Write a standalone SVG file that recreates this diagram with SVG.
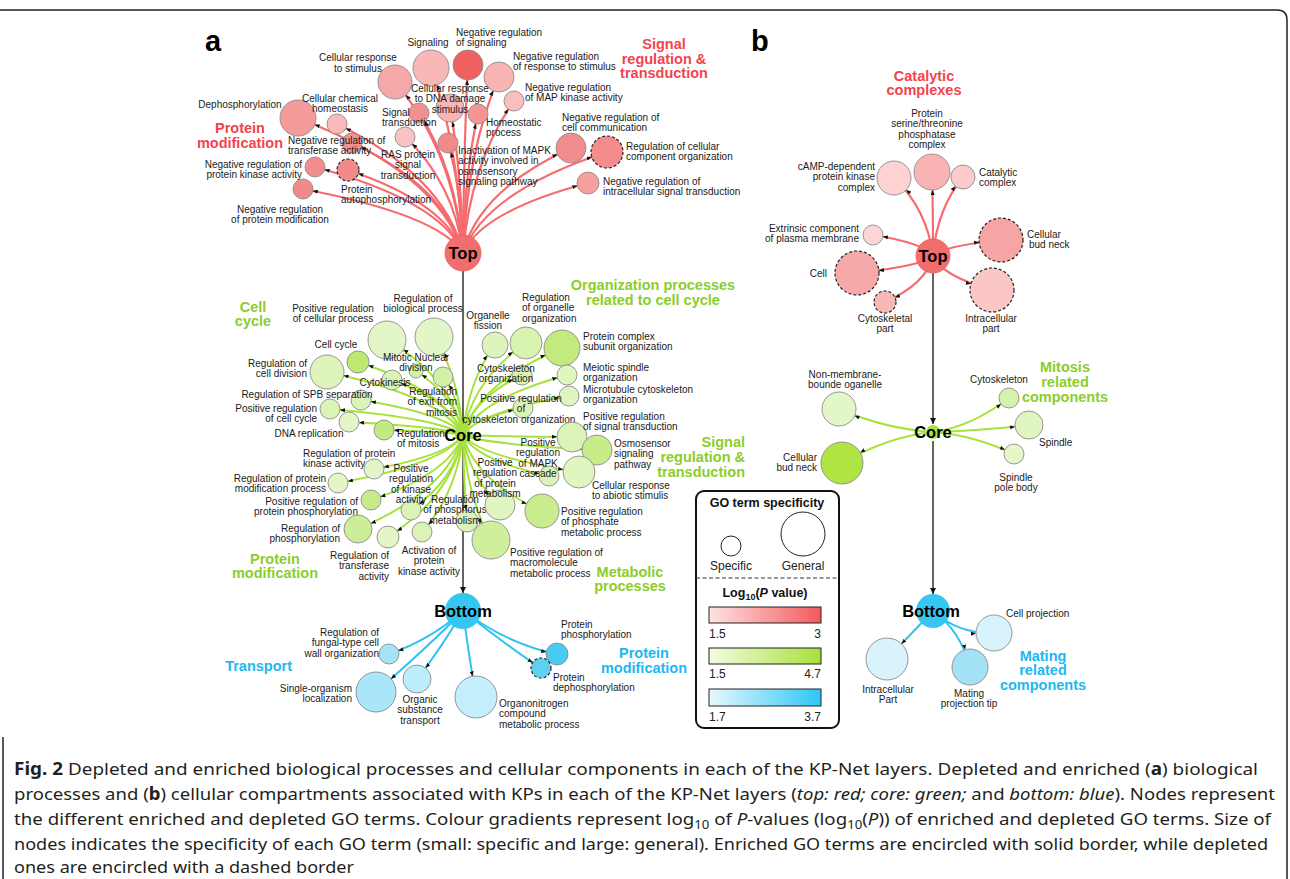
<svg xmlns="http://www.w3.org/2000/svg" width="1290" height="879" viewBox="0 0 1290 879">
<defs>
<style>
.lb{font-family:"Liberation Sans",Arial,sans-serif;font-size:10px;fill:#1a1a1a}
.gr{font-family:"Liberation Sans",Arial,sans-serif;font-size:14.5px;font-weight:bold}
.rd{fill:#f3434e}.gn{fill:#8bcd2b}.cy{fill:#1db8ee}
.hub{font-family:"Liberation Sans",Arial,sans-serif;font-weight:bold;font-size:16.5px;fill:#000;text-anchor:middle}
.pl{font-family:"Liberation Sans",Arial,sans-serif;font-weight:bold;font-size:29px;fill:#000}
.n{stroke:#8c8c8c;stroke-width:0.9}
.d{stroke:#222;stroke-width:1.2;stroke-dasharray:3 2}
.er{fill:none;stroke:#f56b6e;stroke-width:2.2}
.eg{fill:none;stroke:#a7e23c;stroke-width:2}
.eb{fill:none;stroke:#2ec3f0;stroke-width:2}
.vk{fill:none;stroke:#111;stroke-width:1.3}
.cap{font-family:"Noto Sans","Open Sans",sans-serif;font-size:17px;fill:#231f20}
.lg{font-family:"Liberation Sans",Arial,sans-serif;font-size:12px;fill:#222}
.lgb{font-family:"Liberation Sans",Arial,sans-serif;font-size:12.5px;font-weight:bold;fill:#111}
</style>
<marker id="m7" markerUnits="userSpaceOnUse" markerWidth="5" markerHeight="4" refX="12" refY="2" orient="auto"><path d="M0,0 L5,2 L0,4 Z" fill="#111"/></marker>
<marker id="m10" markerUnits="userSpaceOnUse" markerWidth="5" markerHeight="4" refX="15" refY="2" orient="auto"><path d="M0,0 L5,2 L0,4 Z" fill="#111"/></marker>
<marker id="m11" markerUnits="userSpaceOnUse" markerWidth="5" markerHeight="4" refX="16" refY="2" orient="auto"><path d="M0,0 L5,2 L0,4 Z" fill="#111"/></marker>
<marker id="m12" markerUnits="userSpaceOnUse" markerWidth="5" markerHeight="4" refX="17" refY="2" orient="auto"><path d="M0,0 L5,2 L0,4 Z" fill="#111"/></marker>
<marker id="m13" markerUnits="userSpaceOnUse" markerWidth="5" markerHeight="4" refX="18" refY="2" orient="auto"><path d="M0,0 L5,2 L0,4 Z" fill="#111"/></marker>
<marker id="m14" markerUnits="userSpaceOnUse" markerWidth="5" markerHeight="4" refX="19" refY="2" orient="auto"><path d="M0,0 L5,2 L0,4 Z" fill="#111"/></marker>
<marker id="m15" markerUnits="userSpaceOnUse" markerWidth="5" markerHeight="4" refX="20" refY="2" orient="auto"><path d="M0,0 L5,2 L0,4 Z" fill="#111"/></marker>
<marker id="m16" markerUnits="userSpaceOnUse" markerWidth="5" markerHeight="4" refX="21" refY="2" orient="auto"><path d="M0,0 L5,2 L0,4 Z" fill="#111"/></marker>
<marker id="m17" markerUnits="userSpaceOnUse" markerWidth="5" markerHeight="4" refX="22" refY="2" orient="auto"><path d="M0,0 L5,2 L0,4 Z" fill="#111"/></marker>
<marker id="m18" markerUnits="userSpaceOnUse" markerWidth="5" markerHeight="4" refX="23" refY="2" orient="auto"><path d="M0,0 L5,2 L0,4 Z" fill="#111"/></marker>
<marker id="m19" markerUnits="userSpaceOnUse" markerWidth="5" markerHeight="4" refX="24" refY="2" orient="auto"><path d="M0,0 L5,2 L0,4 Z" fill="#111"/></marker>
<marker id="m20" markerUnits="userSpaceOnUse" markerWidth="5" markerHeight="4" refX="25" refY="2" orient="auto"><path d="M0,0 L5,2 L0,4 Z" fill="#111"/></marker>
<marker id="m21" markerUnits="userSpaceOnUse" markerWidth="5" markerHeight="4" refX="26" refY="2" orient="auto"><path d="M0,0 L5,2 L0,4 Z" fill="#111"/></marker>
<marker id="m22" markerUnits="userSpaceOnUse" markerWidth="5" markerHeight="4" refX="27" refY="2" orient="auto"><path d="M0,0 L5,2 L0,4 Z" fill="#111"/></marker>
<marker id="mv" markerUnits="userSpaceOnUse" markerWidth="6" markerHeight="6" refX="6" refY="3" orient="auto"><path d="M0,0 L6,3 L0,6 Z" fill="#111"/></marker>
<linearGradient id="gR" x1="0" x2="1" y1="0" y2="0"><stop offset="0" stop-color="#ffe2e2"/><stop offset="1" stop-color="#f25a5c"/></linearGradient>
<linearGradient id="gG" x1="0" x2="1" y1="0" y2="0"><stop offset="0" stop-color="#f3fbe2"/><stop offset="1" stop-color="#a8e03c"/></linearGradient>
<linearGradient id="gB" x1="0" x2="1" y1="0" y2="0"><stop offset="0" stop-color="#e6f8fe"/><stop offset="1" stop-color="#2ec6f5"/></linearGradient>
</defs>
<rect width="1290" height="879" fill="#fff"/>
<path id="frame" d="M0,10 H1277 Q1287,10 1287,20 V879 M3,737 V879" fill="none" stroke="#222" stroke-width="1.5"/>
<text class="pl" x="205" y="51">a</text>
<text class="pl" x="751" y="51">b</text>

<g id="connectors">
<path class="vk" d="M463,271 V424" marker-end="url(#mv)"/>
<path class="vk" d="M463,446 V593" marker-end="url(#mv)"/>
<path class="vk" d="M933,273 V424" marker-end="url(#mv)"/>
<path class="vk" d="M933,441 V594" marker-end="url(#mv)"/>
<path class="er" d="M463,253 Q453,150 395,82" marker-end="url(#m17)"/>
<path class="er" d="M463,253 Q458,142 431,68" marker-end="url(#m18)"/>
<path class="er" d="M463,253 Q464,140 468,65" marker-end="url(#m15)"/>
<path class="er" d="M463,253 Q468,147 499,77" marker-end="url(#m15)"/>
<path class="er" d="M463,253 Q471,162 514,101" marker-end="url(#m10)"/>
<path class="er" d="M463,253 Q461,166 450,108" marker-end="url(#m14)"/>
<path class="er" d="M463,253 Q465,170 478,114" marker-end="url(#m10)"/>
<path class="er" d="M463,253 Q456,169 419,113" marker-end="url(#m10)"/>
<path class="er" d="M463,253 Q461,187 448,143" marker-end="url(#m10)"/>
<path class="er" d="M463,253 Q454,183 405,137" marker-end="url(#m10)"/>
<path class="er" d="M463,253 Q438,172 298,118" marker-end="url(#m18)"/>
<path class="er" d="M463,253 Q444,176 337,124" marker-end="url(#m10)"/>
<path class="er" d="M463,253 Q446,187 352,143" marker-end="url(#m10)"/>
<path class="er" d="M463,253 Q441,201 315,167" marker-end="url(#m10)"/>
<path class="er" d="M463,253 Q446,203 348,170" marker-end="url(#m11)"/>
<path class="er" d="M463,253 Q439,215 303,189" marker-end="url(#m10)"/>
<path class="er" d="M463,253 Q479,190 571,148" marker-end="url(#m15)"/>
<path class="er" d="M463,253 Q485,192 607,152" marker-end="url(#m16)"/>
<path class="er" d="M463,253 Q482,211 588,183" marker-end="url(#m11)"/>

<path class="eg" d="M463,435 Q452,378 387,340" marker-end="url(#m19)"/>
<path class="eg" d="M463,435 Q459,376 434,337" marker-end="url(#m19)"/>
<path class="eg" d="M463,435 Q447,391 358,362" marker-end="url(#m11)"/>
<path class="eg" d="M463,435 Q443,397 327,372" marker-end="url(#m17)"/>
<path class="eg" d="M463,435 Q456,397 416,371" marker-end="url(#m7)"/>
<path class="eg" d="M463,435 Q460,400 443,377" marker-end="url(#m10)"/>
<path class="eg" d="M463,435 Q452,402 392,380" marker-end="url(#m10)"/>
<path class="eg" d="M463,435 Q448,414 361,400" marker-end="url(#m10)"/>
<path class="eg" d="M463,435 Q443,419 330,409" marker-end="url(#m10)"/>
<path class="eg" d="M463,435 Q446,427 349,422" marker-end="url(#m10)"/>
<path class="eg" d="M463,435 Q451,432 384,430" marker-end="url(#m10)"/>
<path class="eg" d="M463,435 Q450,455 374,469" marker-end="url(#m10)"/>
<path class="eg" d="M463,435 Q444,464 338,483" marker-end="url(#m10)"/>
<path class="eg" d="M463,435 Q455,480 411,510" marker-end="url(#m10)"/>
<path class="eg" d="M463,435 Q449,474 371,500" marker-end="url(#m10)"/>
<path class="eg" d="M463,435 Q447,491 358,529" marker-end="url(#m14)"/>
<path class="eg" d="M463,435 Q452,496 388,537" marker-end="url(#m11)"/>
<path class="eg" d="M463,435 Q457,493 422,532" marker-end="url(#m10)"/>
<path class="eg" d="M463,435 Q464,487 467,521" marker-end="url(#m11)"/>
<path class="eg" d="M463,435 Q469,477 500,505" marker-end="url(#m15)"/>
<path class="eg" d="M463,435 Q467,498 491,540" marker-end="url(#m19)"/>
<path class="eg" d="M463,435 Q475,481 542,511" marker-end="url(#m17)"/>
<path class="eg" d="M463,435 Q468,381 495,345" marker-end="url(#m13)"/>
<path class="eg" d="M463,435 Q472,380 526,343" marker-end="url(#m16)"/>
<path class="eg" d="M463,435 Q478,383 562,348" marker-end="url(#m18)"/>
<path class="eg" d="M463,435 Q479,399 567,375" marker-end="url(#m10)"/>
<path class="eg" d="M463,435 Q479,412 569,396" marker-end="url(#m10)"/>
<path class="eg" d="M463,435 Q472,399 522,375" marker-end="url(#m10)"/>
<path class="eg" d="M463,435 Q472,419 523,408" marker-end="url(#m10)"/>
<path class="eg" d="M463,435 Q479,436 572,437" marker-end="url(#m15)"/>
<path class="eg" d="M463,435 Q483,444 597,450" marker-end="url(#m15)"/>
<path class="eg" d="M463,435 Q480,457 579,472" marker-end="url(#m16)"/>
<path class="eg" d="M463,435 Q476,460 549,476" marker-end="url(#m10)"/>

<path class="eb" d="M463,611 Q430,640 389,654" marker-end="url(#m10)"/>
<path class="eb" d="M463,611 Q430,645 376,692" marker-end="url(#m20)"/>
<path class="eb" d="M463,611 Q440,650 417,679" marker-end="url(#m14)"/>
<path class="eb" d="M463,611 Q468,650 476,697" marker-end="url(#m21)"/>
<path class="eb" d="M463,611 Q510,645 557,654" marker-end="url(#m11)"/>
<path class="eb" d="M463,611 Q510,648 541,668" marker-end="url(#m10)"/>

<path class="er" d="M933,256 Q933,206 932,172" marker-end="url(#m18)"/>
<path class="er" d="M933,256 Q927,209 894,178" marker-end="url(#m17)"/>
<path class="er" d="M933,256 Q937,209 963,177" marker-end="url(#m12)"/>
<path class="er" d="M933,256 Q924,243 873,235" marker-end="url(#m10)"/>
<path class="er" d="M933,256 Q943,246 1001,240" marker-end="url(#m22)"/>
<path class="er" d="M933,256 Q922,266 857,273" marker-end="url(#m22)"/>
<path class="er" d="M933,256 Q926,284 885,302" marker-end="url(#m11)"/>
<path class="er" d="M933,256 Q942,276 992,290" marker-end="url(#m22)"/>

<path class="eg" d="M933,432 Q886,429 839,409" marker-end="url(#m17)"/>
<path class="eg" d="M933,432 Q887,437 842,463" marker-end="url(#m21)"/>
<path class="eg" d="M933,432 Q971,427 1009,398" marker-end="url(#m10)"/>
<path class="eg" d="M933,432 Q981,431 1029,425" marker-end="url(#m14)"/>
<path class="eg" d="M933,432 Q973,435 1014,454" marker-end="url(#m10)"/>

<path class="eb" d="M933,611 Q958,634 994,633" marker-end="url(#m18)"/>
<path class="eb" d="M933,611 Q910,635 887,659" marker-end="url(#m21)"/>
<path class="eb" d="M933,611 Q960,630 970,667" marker-end="url(#m18)"/>
</g>

<g id="group-labels">
<text class="gr rd" text-anchor="middle"><tspan x="240" y="133">Protein</tspan><tspan x="240" y="148">modification</tspan></text>
<text class="gr rd" text-anchor="middle"><tspan x="664" y="49">Signal</tspan><tspan x="664" y="64">regulation &amp;</tspan><tspan x="664" y="78">transduction</tspan></text>
<text class="gr gn" text-anchor="middle"><tspan x="253" y="312">Cell</tspan><tspan x="253" y="326">cycle</tspan></text>
<text class="gr gn" text-anchor="middle"><tspan x="653" y="290">Organization processes</tspan><tspan x="653" y="305">related to cell cycle</tspan></text>
<text class="gr gn" text-anchor="end"><tspan x="745" y="447">Signal</tspan><tspan x="745" y="462">regulation &amp;</tspan><tspan x="745" y="477">transduction</tspan></text>
<text class="gr gn" text-anchor="middle"><tspan x="275" y="564">Protein</tspan><tspan x="275" y="578">modification</tspan></text>
<text class="gr gn" text-anchor="middle"><tspan x="630" y="577">Metabolic</tspan><tspan x="630" y="591">processes</tspan></text>
<text class="gr cy" text-anchor="end" x="292" y="671">Transport</text>
<text class="gr cy" text-anchor="middle"><tspan x="644" y="658">Protein</tspan><tspan x="644" y="673">modification</tspan></text>
<text class="gr rd" text-anchor="middle"><tspan x="924" y="81">Catalytic</tspan><tspan x="924" y="95">complexes</tspan></text>
<text class="gr gn" text-anchor="middle"><tspan x="1065" y="372">Mitosis</tspan><tspan x="1065" y="387">related</tspan><tspan x="1065" y="402">components</tspan></text>
<text class="gr cy" text-anchor="middle"><tspan x="1043" y="661">Mating</tspan><tspan x="1043" y="675">related</tspan><tspan x="1043" y="690">components</tspan></text>
</g>

<g id="n-cellular-response-to-stimulus"><circle class="n" cx="395" cy="82" r="17" fill="#f6a7a7"/><text class="lb" text-anchor="middle"><tspan x="358" y="61">Cellular response</tspan><tspan x="358" dy="10.5">to stimulus</tspan></text></g>
<g id="n-signaling"><circle class="n" cx="431" cy="68" r="18" fill="#f9b7b7"/><text class="lb" text-anchor="middle" x="428" y="45.5">Signaling</text></g>
<g id="n-neg-reg-signaling"><circle class="n" cx="468" cy="65" r="15" fill="#ee6161"/><text class="lb"><tspan x="456" y="35.5">Negative regulation</tspan><tspan x="456" dy="10.5">of signaling</tspan></text></g>
<g id="n-neg-reg-response"><circle class="n" cx="499" cy="77" r="15" fill="#f8b3b3"/><text class="lb"><tspan x="513" y="59.5">Negative regulation</tspan><tspan x="513" dy="10.5">of response to stimulus</tspan></text></g>
<g id="n-neg-reg-map-kinase"><circle class="n" cx="514" cy="101" r="10" fill="#f9bebe"/><text class="lb"><tspan x="525" y="90.5">Negative regulation</tspan><tspan x="525" dy="10.5">of MAP kinase activity</tspan></text></g>
<g id="n-dna-damage"><circle class="n" cx="450" cy="108" r="14" fill="#f8b5b5"/><text class="lb" text-anchor="middle"><tspan x="450" y="91.5">Cellular response</tspan><tspan x="450" dy="10.5">to DNA damage</tspan><tspan x="450" dy="10.5">stimulus</tspan></text></g>
<g id="n-homeostatic"><circle class="n" cx="478" cy="114" r="10" fill="#f49595"/><text class="lb"><tspan x="486" y="125.5">Homeostatic</tspan><tspan x="486" dy="10.5">process</tspan></text></g>
<g id="n-signal-transduction"><circle class="n" cx="419" cy="113" r="10" fill="#f29090"/><text class="lb"><tspan x="382" y="115.5">Signal</tspan><tspan x="382" dy="10.5">transduction</tspan></text></g>
<g id="n-inactivation-mapk"><circle class="n" cx="448" cy="143" r="10" fill="#f18a8a"/><text class="lb"><tspan x="458" y="153.5">Inactivation of MAPK</tspan><tspan x="458" dy="10.5">activity involved in</tspan><tspan x="458" dy="10.5">osmosensory</tspan><tspan x="458" dy="10.5">signaling pathway</tspan></text></g>
<g id="n-ras"><circle class="n" cx="405" cy="137" r="10" fill="#fac3c3"/><text class="lb" text-anchor="middle"><tspan x="408" y="157.5">RAS protein</tspan><tspan x="408" dy="10.5">signal</tspan><tspan x="408" dy="10.5">transduction</tspan></text></g>
<g id="n-dephosphorylation"><circle class="n" cx="298" cy="118" r="18" fill="#f59a9a"/><text class="lb" text-anchor="middle" x="240" y="107.5">Dephosphorylation</text></g>
<g id="n-chem-homeostasis"><circle class="n" cx="337" cy="124" r="10" fill="#fab9b9"/><text class="lb" text-anchor="middle"><tspan x="340" y="101.5">Cellular chemical</tspan><tspan x="340" dy="10.5">homeostasis</tspan></text></g>
<g id="n-neg-reg-transferase"><circle class="n" cx="352" cy="143" r="10" fill="#f39090"/><text class="lb"><tspan x="288" y="143.5">Negative regulation of</tspan><tspan x="288" dy="10.5">transferase activity</tspan></text></g>
<g id="n-neg-reg-pk"><circle class="n" cx="315" cy="167" r="10" fill="#f38d8d"/><text class="lb" text-anchor="end"><tspan x="302" y="167.5">Negative regulation of</tspan><tspan x="302" dy="10.5">protein kinase activity</tspan></text></g>
<g id="n-autophosphorylation"><circle class="d" cx="348" cy="170" r="11" fill="#f28a8a"/><text class="lb"><tspan x="341" y="192.5">Protein</tspan><tspan x="341" dy="10.5">autophosphorylation</tspan></text></g>
<g id="n-neg-reg-protein-mod"><circle class="n" cx="303" cy="189" r="10" fill="#f28a8a"/><text class="lb" text-anchor="middle"><tspan x="280" y="212.5">Negative regulation</tspan><tspan x="280" dy="10.5">of protein modification</tspan></text></g>
<g id="n-neg-reg-cell-comm"><circle class="n" cx="571" cy="148" r="15" fill="#f28d8d"/><text class="lb"><tspan x="562" y="120.5">Negative regulation of</tspan><tspan x="562" dy="10.5">cell communication</tspan></text></g>
<g id="n-reg-cell-comp-org"><circle class="d" cx="607" cy="152" r="16" fill="#f48c8c"/><text class="lb"><tspan x="626" y="149.5">Regulation of cellular</tspan><tspan x="626" dy="10.5">component organization</tspan></text></g>
<g id="n-neg-reg-intracell"><circle class="n" cx="588" cy="183" r="11" fill="#f59f9f"/><text class="lb"><tspan x="603" y="184.5">Negative regulation of</tspan><tspan x="603" dy="10.5">intracellular signal transduction</tspan></text></g>

<g id="n-pos-reg-cellular-process"><circle class="n" cx="387" cy="340" r="19" fill="#e3f6c8"/><text class="lb" text-anchor="middle"><tspan x="333" y="311.5">Positive regulation</tspan><tspan x="333" dy="10.5">of cellular process</tspan></text></g>
<g id="n-reg-biological-process"><circle class="n" cx="434" cy="337" r="19" fill="#e3f6c8"/><text class="lb" text-anchor="middle"><tspan x="423" y="301.5">Regulation of</tspan><tspan x="423" dy="10.5">biological process</tspan></text></g>
<g id="n-cell-cycle"><circle class="n" cx="358" cy="362" r="11" fill="#bde872"/><text class="lb" text-anchor="middle" x="336" y="347.5">Cell cycle</text></g>
<g id="n-reg-cell-division"><circle class="n" cx="327" cy="372" r="17" fill="#def4bc"/><text class="lb" text-anchor="end"><tspan x="307" y="366.5">Regulation of</tspan><tspan x="307" dy="10.5">cell division</tspan></text></g>
<g id="n-mitotic-nuclear-division"><circle class="n" cx="416" cy="371" r="7" fill="#d2f0a6"/><text class="lb" text-anchor="middle"><tspan x="416" y="360.5">Mitotic Nuclear</tspan><tspan x="416" dy="10.5">division</tspan></text></g>
<g id="n-reg-exit-mitosis"><circle class="n" cx="443" cy="377" r="10" fill="#d2f0a6"/><text class="lb" text-anchor="end"><tspan x="457" y="394.5">Regulation</tspan><tspan x="457" dy="10.5">of exit from</tspan><tspan x="457" dy="10.5">mitosis</tspan></text></g>
<g id="n-cytokinesis"><circle class="n" cx="392" cy="380" r="10" fill="#dcf3b8"/><text class="lb" text-anchor="middle" x="385" y="385.5">Cytokinesis</text></g>
<g id="n-reg-spb"><circle class="n" cx="361" cy="400" r="10" fill="#dcf3b8"/><text class="lb" text-anchor="middle" x="307" y="397.5">Regulation of SPB separation</text></g>
<g id="n-pos-reg-cell-cycle"><circle class="n" cx="330" cy="409" r="10" fill="#dcf3b8"/><text class="lb" text-anchor="end"><tspan x="317" y="411.5">Positive regulation</tspan><tspan x="317" dy="10.5">of cell cycle</tspan></text></g>
<g id="n-dna-replication"><circle class="n" cx="349" cy="422" r="10" fill="#e4f6c8"/><text class="lb" text-anchor="middle" x="309" y="436.5">DNA replication</text></g>
<g id="n-reg-mitosis"><circle class="n" cx="384" cy="430" r="10" fill="#c3ea80"/><text class="lb"><tspan x="397" y="436.5">Regulation</tspan><tspan x="397" dy="10.5">of mitosis</tspan></text></g>
<g id="n-reg-pk-activity"><circle class="n" cx="374" cy="469" r="10" fill="#e4f6c8"/><text class="lb"><tspan x="303" y="456.5">Regulation of protein</tspan><tspan x="303" dy="10.5">kinase activity</tspan></text></g>
<g id="n-reg-protein-mod-process"><circle class="n" cx="338" cy="483" r="10" fill="#e4f6c8"/><text class="lb" text-anchor="end"><tspan x="326" y="481.5">Regulation of protein</tspan><tspan x="326" dy="10.5">modification process</tspan></text></g>
<g id="n-pos-reg-kinase-activity"><circle class="n" cx="411" cy="510" r="10" fill="#dcf3b8"/><text class="lb" text-anchor="middle"><tspan x="411" y="471.5">Positive</tspan><tspan x="411" dy="10.5">regulation</tspan><tspan x="411" dy="10.5">of kinase</tspan><tspan x="411" dy="10.5">activity</tspan></text></g>
<g id="n-pos-reg-protein-phos"><circle class="n" cx="371" cy="500" r="10" fill="#c6eb88"/><text class="lb" text-anchor="end"><tspan x="358" y="504.5">Positive regulation of</tspan><tspan x="358" dy="10.5">protein phosphorylation</tspan></text></g>
<g id="n-reg-phosphorylation"><circle class="n" cx="358" cy="529" r="14" fill="#cdee98"/><text class="lb" text-anchor="end"><tspan x="340" y="531.5">Regulation of</tspan><tspan x="340" dy="10.5">phosphorylation</tspan></text></g>
<g id="n-reg-transferase"><circle class="n" cx="388" cy="537" r="11" fill="#e4f6c8"/><text class="lb" text-anchor="end"><tspan x="389" y="558.5">Regulation of</tspan><tspan x="389" dy="10.5">transferase</tspan><tspan x="389" dy="10.5">activity</tspan></text></g>
<g id="n-activation-pk"><circle class="n" cx="422" cy="532" r="10" fill="#dcf3b8"/><text class="lb" text-anchor="middle"><tspan x="429" y="553.5">Activation of</tspan><tspan x="429" dy="10.5">protein</tspan><tspan x="429" dy="10.5">kinase activity</tspan></text></g>
<g id="n-reg-phosphorus"><circle class="n" cx="467" cy="521" r="11" fill="#dcf3b8"/><text class="lb" text-anchor="middle"><tspan x="455" y="502.5">Regulation</tspan><tspan x="455" dy="10.5">of phosphorus</tspan><tspan x="455" dy="10.5">metabolism</tspan></text></g>
<g id="n-pos-reg-protein-metab"><circle class="n" cx="500" cy="505" r="15" fill="#e0f5c0"/><text class="lb" text-anchor="middle"><tspan x="495" y="465.5">Positive</tspan><tspan x="495" dy="10.5">regulation</tspan><tspan x="495" dy="10.5">of protein</tspan><tspan x="495" dy="10.5">metabolism</tspan></text></g>
<g id="n-pos-reg-macromolecule"><circle class="n" cx="491" cy="540" r="19" fill="#cfef9c"/><text class="lb"><tspan x="510" y="555.5">Positive regulation of</tspan><tspan x="510" dy="10.5">macromolecule</tspan><tspan x="510" dy="10.5">metabolic process</tspan></text></g>
<g id="n-pos-reg-phosphate"><circle class="n" cx="542" cy="511" r="17" fill="#c9ed8e"/><text class="lb"><tspan x="561" y="514.5">Positive regulation</tspan><tspan x="561" dy="10.5">of phosphate</tspan><tspan x="561" dy="10.5">metabolic process</tspan></text></g>
<g id="n-organelle-fission"><circle class="n" cx="495" cy="345" r="13" fill="#def4bc"/><text class="lb" text-anchor="middle"><tspan x="488" y="318.5">Organelle</tspan><tspan x="488" dy="10.5">fission</tspan></text></g>
<g id="n-reg-organelle-org"><circle class="n" cx="526" cy="343" r="16" fill="#d8f2b0"/><text class="lb"><tspan x="522" y="300.5">Regulation</tspan><tspan x="522" dy="10.5">of organelle</tspan><tspan x="522" dy="10.5">organization</tspan></text></g>
<g id="n-protein-complex-subunit"><circle class="n" cx="562" cy="348" r="18" fill="#c3ea7c"/><text class="lb"><tspan x="583" y="339.5">Protein complex</tspan><tspan x="583" dy="10.5">subunit organization</tspan></text></g>
<g id="n-meiotic-spindle"><circle class="n" cx="567" cy="375" r="10" fill="#e0f5c0"/><text class="lb"><tspan x="583" y="370.5">Meiotic spindle</tspan><tspan x="583" dy="10.5">organization</tspan></text></g>
<g id="n-microtubule"><circle class="n" cx="569" cy="396" r="10" fill="#e0f5c0"/><text class="lb"><tspan x="583" y="392.5">Microtubule cytoskeleton</tspan><tspan x="583" dy="10.5">organization</tspan></text></g>
<g id="n-cytoskeleton-org"><circle class="n" cx="522" cy="375" r="10" fill="#dcf3b8"/><text class="lb" text-anchor="middle"><tspan x="506" y="371.5">Cytoskeleton</tspan><tspan x="506" dy="10.5">organization</tspan></text></g>
<g id="n-pos-reg-cytoskeleton"><circle class="n" cx="523" cy="408" r="10" fill="#dcf3b8"/><text class="lb" text-anchor="middle"><tspan x="521" y="401.5">Positive regulation</tspan><tspan x="521" dy="10.5">of</tspan><tspan x="519" dy="10.5">cytoskeleton organization</tspan></text></g>
<g id="n-pos-reg-signal-transduction"><circle class="n" cx="572" cy="437" r="15" fill="#dcf3b8"/><text class="lb"><tspan x="583" y="419.5">Positive regulation</tspan><tspan x="583" dy="10.5">of signal transduction</tspan></text></g>
<g id="n-osmosensor"><circle class="n" cx="597" cy="450" r="15" fill="#c8ec8a"/><text class="lb"><tspan x="614" y="446.5">Osmosensor</tspan><tspan x="614" dy="10.5">signaling</tspan><tspan x="614" dy="10.5">pathway</tspan></text></g>
<g id="n-abiotic"><circle class="n" cx="579" cy="472" r="16" fill="#e0f5c0"/><text class="lb"><tspan x="592" y="488.5">Cellular response</tspan><tspan x="592" dy="10.5">to abiotic stimulis</tspan></text></g>
<g id="n-pos-reg-mapk"><circle class="n" cx="549" cy="476" r="10" fill="#dcf3b8"/><text class="lb" text-anchor="middle"><tspan x="538" y="445.5">Positive</tspan><tspan x="538" dy="10.5">regulation</tspan><tspan x="538" dy="10.5">of MAPK</tspan><tspan x="538" dy="10.5">cascade</tspan></text></g>

<g id="n-reg-fungal-cell-wall"><circle class="n" cx="389" cy="654" r="10" fill="#a6e3f7"/><text class="lb" text-anchor="end"><tspan x="379" y="635.5">Regulation of</tspan><tspan x="379" dy="10.5">fungal-type cell</tspan><tspan x="379" dy="10.5">wall organization</tspan></text></g>
<g id="n-single-organism"><circle class="n" cx="376" cy="692" r="20" fill="#a9e6f9"/><text class="lb" text-anchor="end"><tspan x="352" y="691.5">Single-organism</tspan><tspan x="352" dy="10.5">localization</tspan></text></g>
<g id="n-organic-substance"><circle class="n" cx="417" cy="679" r="14" fill="#bdedfb"/><text class="lb" text-anchor="middle"><tspan x="420" y="702.5">Organic</tspan><tspan x="420" dy="10.5">substance</tspan><tspan x="420" dy="10.5">transport</tspan></text></g>
<g id="n-organonitrogen"><circle class="n" cx="476" cy="697" r="21" fill="#c3eefb"/><text class="lb"><tspan x="499" y="706.5">Organonitrogen</tspan><tspan x="499" dy="10.5">compound</tspan><tspan x="499" dy="10.5">metabolic process</tspan></text></g>
<g id="n-protein-phosphorylation"><circle class="n" cx="557" cy="654" r="11" fill="#48caf3"/><text class="lb"><tspan x="561" y="627.5">Protein</tspan><tspan x="561" dy="10.5">phosphorylation</tspan></text></g>
<g id="n-protein-dephosphorylation"><circle class="d" cx="541" cy="668" r="10" fill="#5fd0f4"/><text class="lb"><tspan x="553" y="680.5">Protein</tspan><tspan x="553" dy="10.5">dephosphorylation</tspan></text></g>

<g id="n-ppp-complex"><circle class="n" cx="932" cy="172" r="18" fill="#f9b3b3"/><text class="lb" text-anchor="middle"><tspan x="927" y="116.5">Protein</tspan><tspan x="927" dy="10.5">serine/threonine</tspan><tspan x="927" dy="10.5">phosphatase</tspan><tspan x="927" dy="10.5">complex</tspan></text></g>
<g id="n-camp"><circle class="n" cx="894" cy="178" r="17" fill="#fcd2d2"/><text class="lb" text-anchor="end"><tspan x="875" y="169.5">cAMP-dependent</tspan><tspan x="875" dy="10.5">protein kinase</tspan><tspan x="875" dy="10.5">complex</tspan></text></g>
<g id="n-catalytic-complex"><circle class="n" cx="963" cy="177" r="12" fill="#fbcaca"/><text class="lb"><tspan x="979" y="175.5">Catalytic</tspan><tspan x="979" dy="10.5">complex</tspan></text></g>
<g id="n-extrinsic"><circle class="n" cx="873" cy="235" r="10" fill="#fcd6d6"/><text class="lb" text-anchor="end"><tspan x="859" y="231.5">Extrinsic component</tspan><tspan x="859" dy="10.5">of plasma membrane</tspan></text></g>
<g id="n-bud-neck-top"><circle class="d" cx="1001" cy="240" r="22" fill="#f7a4a4"/><text class="lb"><tspan x="1027" y="237.5">Cellular</tspan><tspan x="1029" dy="10.5">bud neck</tspan></text></g>
<g id="n-cell"><circle class="d" cx="857" cy="273" r="22" fill="#f7a8a8"/><text class="lb" text-anchor="end" x="827" y="276.5">Cell</text></g>
<g id="n-cytoskeletal-part"><circle class="d" cx="885" cy="302" r="11" fill="#f9b8b8"/><text class="lb" text-anchor="middle"><tspan x="885" y="321.5">Cytoskeletal</tspan><tspan x="885" dy="10.5">part</tspan></text></g>
<g id="n-intracellular-part-top"><circle class="d" cx="992" cy="290" r="22" fill="#fbc6c6"/><text class="lb" text-anchor="middle"><tspan x="991" y="321.5">Intracellular</tspan><tspan x="991" dy="10.5">part</tspan></text></g>

<g id="n-non-membrane"><circle class="n" cx="839" cy="409" r="17" fill="#e3f6c8"/><text class="lb" text-anchor="middle"><tspan x="845" y="377.5">Non-membrane-</tspan><tspan x="845" dy="10.5">bounde oganelle</tspan></text></g>
<g id="n-bud-neck-core"><circle class="n" cx="842" cy="463" r="21" fill="#b0e443"/><text class="lb" text-anchor="end"><tspan x="817" y="460.5">Cellular</tspan><tspan x="817" dy="10.5">bud neck</tspan></text></g>
<g id="n-cytoskeleton"><circle class="n" cx="1009" cy="398" r="10" fill="#d6f1ac"/><text class="lb" text-anchor="middle" x="999" y="382.5">Cytoskeleton</text></g>
<g id="n-spindle"><circle class="n" cx="1029" cy="425" r="14" fill="#e0f5c0"/><text class="lb" x="1039" y="445.5">Spindle</text></g>
<g id="n-spindle-pole-body"><circle class="n" cx="1014" cy="454" r="10" fill="#e6f7cc"/><text class="lb" text-anchor="middle"><tspan x="1016" y="480.5">Spindle</tspan><tspan x="1016" dy="10.5">pole body</tspan></text></g>

<g id="n-cell-projection"><circle class="n" cx="994" cy="633" r="18" fill="#d8f3fc"/><text class="lb" x="1006" y="616.5">Cell projection</text></g>
<g id="n-intracellular-part-bottom"><circle class="n" cx="887" cy="659" r="21" fill="#d8f3fc"/><text class="lb" text-anchor="middle"><tspan x="888" y="692.5">Intracellular</tspan><tspan x="888" dy="10.5">Part</tspan></text></g>
<g id="n-mating-tip"><circle class="n" cx="970" cy="667" r="18" fill="#a3e1f7"/><text class="lb" text-anchor="middle"><tspan x="969" y="696.5">Mating</tspan><tspan x="969" dy="10.5">projection tip</tspan></text></g>

<g id="top-a"><circle cx="463" cy="253" r="18" fill="#f26d6d" stroke="#e46060" stroke-width="0.8"/><text class="hub" x="463" y="259">Top</text></g>
<g id="core-a"><circle cx="463" cy="435" r="8" fill="#a8e048"/><text class="hub" x="463" y="441">Core</text></g>
<g id="bottom-a"><circle cx="463" cy="611" r="18" fill="#35c6f2"/><text class="hub" x="463" y="617">Bottom</text></g>
<g id="top-b"><circle cx="933" cy="256" r="17" fill="#f26d6d" stroke="#e46060" stroke-width="0.8"/><text class="hub" x="933" y="262">Top</text></g>
<g id="core-b"><circle cx="933" cy="432" r="7" fill="#a8e048"/><text class="hub" x="933" y="438">Core</text></g>
<g id="bottom-b"><circle cx="933" cy="611" r="17" fill="#35c6f2"/><text class="hub" x="931" y="617">Bottom</text></g>

<g id="legend">
<rect x="696" y="491" width="143" height="237" rx="8" fill="#fff" stroke="#111" stroke-width="2"/>
<text class="lgb" x="767" y="507" text-anchor="middle">GO term specificity</text>
<circle cx="731" cy="546" r="10" fill="#fff" stroke="#222" stroke-width="1"/>
<circle cx="803" cy="534" r="22" fill="#fff" stroke="#222" stroke-width="1"/>
<text class="lg" x="731" y="570" text-anchor="middle">Specific</text>
<text class="lg" x="803" y="570" text-anchor="middle">General</text>
<line x1="696" y1="578" x2="839" y2="578" stroke="#333" stroke-width="1.2" stroke-dasharray="4 2.5"/>
<text class="lgb" x="765" y="597" text-anchor="middle">Log<tspan font-size="9" dy="3">10</tspan><tspan dy="-3">(</tspan><tspan font-style="italic">P</tspan> value)</text>
<rect x="709" y="607" width="112" height="16" fill="url(#gR)" stroke="#222" stroke-width="1"/>
<text class="lg" x="709" y="638">1.5</text><text class="lg" x="821" y="638" text-anchor="end">3</text>
<rect x="709" y="648" width="112" height="16" fill="url(#gG)" stroke="#222" stroke-width="1"/>
<text class="lg" x="709" y="678">1.5</text><text class="lg" x="821" y="678" text-anchor="end">4.7</text>
<rect x="709" y="689" width="112" height="17" fill="url(#gB)" stroke="#222" stroke-width="1"/>
<text class="lg" x="709" y="721">1.7</text><text class="lg" x="821" y="721" text-anchor="end">3.7</text>
</g>

<g id="caption">
<text class="cap" x="14" y="775" textLength="1244" lengthAdjust="spacingAndGlyphs"><tspan font-weight="bold">Fig. 2</tspan> Depleted and enriched biological processes and cellular components in each of the KP-Net layers. Depleted and enriched (<tspan font-weight="bold">a</tspan>) biological</text>
<text class="cap" x="14" y="800" textLength="1261" lengthAdjust="spacingAndGlyphs">processes and (<tspan font-weight="bold">b</tspan>) cellular compartments associated with KPs in each of the KP-Net layers (<tspan font-style="italic">top: red; core: green;</tspan> and <tspan font-style="italic">bottom: blue</tspan>). Nodes represent</text>
<text class="cap" x="14" y="825" textLength="1257" lengthAdjust="spacingAndGlyphs">the different enriched and depleted GO terms. Colour gradients represent log<tspan font-size="12" dy="4">10</tspan><tspan dy="-4"> of </tspan><tspan font-style="italic">P</tspan>-values (log<tspan font-size="12" dy="4">10</tspan><tspan dy="-4">(</tspan><tspan font-style="italic">P</tspan>)) of enriched and depleted GO terms. Size of</text>
<text class="cap" x="14" y="850" textLength="1254" lengthAdjust="spacingAndGlyphs">nodes indicates the specificity of each GO term (small: specific and large: general). Enriched GO terms are encircled with solid border, while depleted</text>
<text class="cap" x="14" y="873" textLength="340" lengthAdjust="spacingAndGlyphs">ones are encircled with a dashed border</text>
</g>
</svg>
